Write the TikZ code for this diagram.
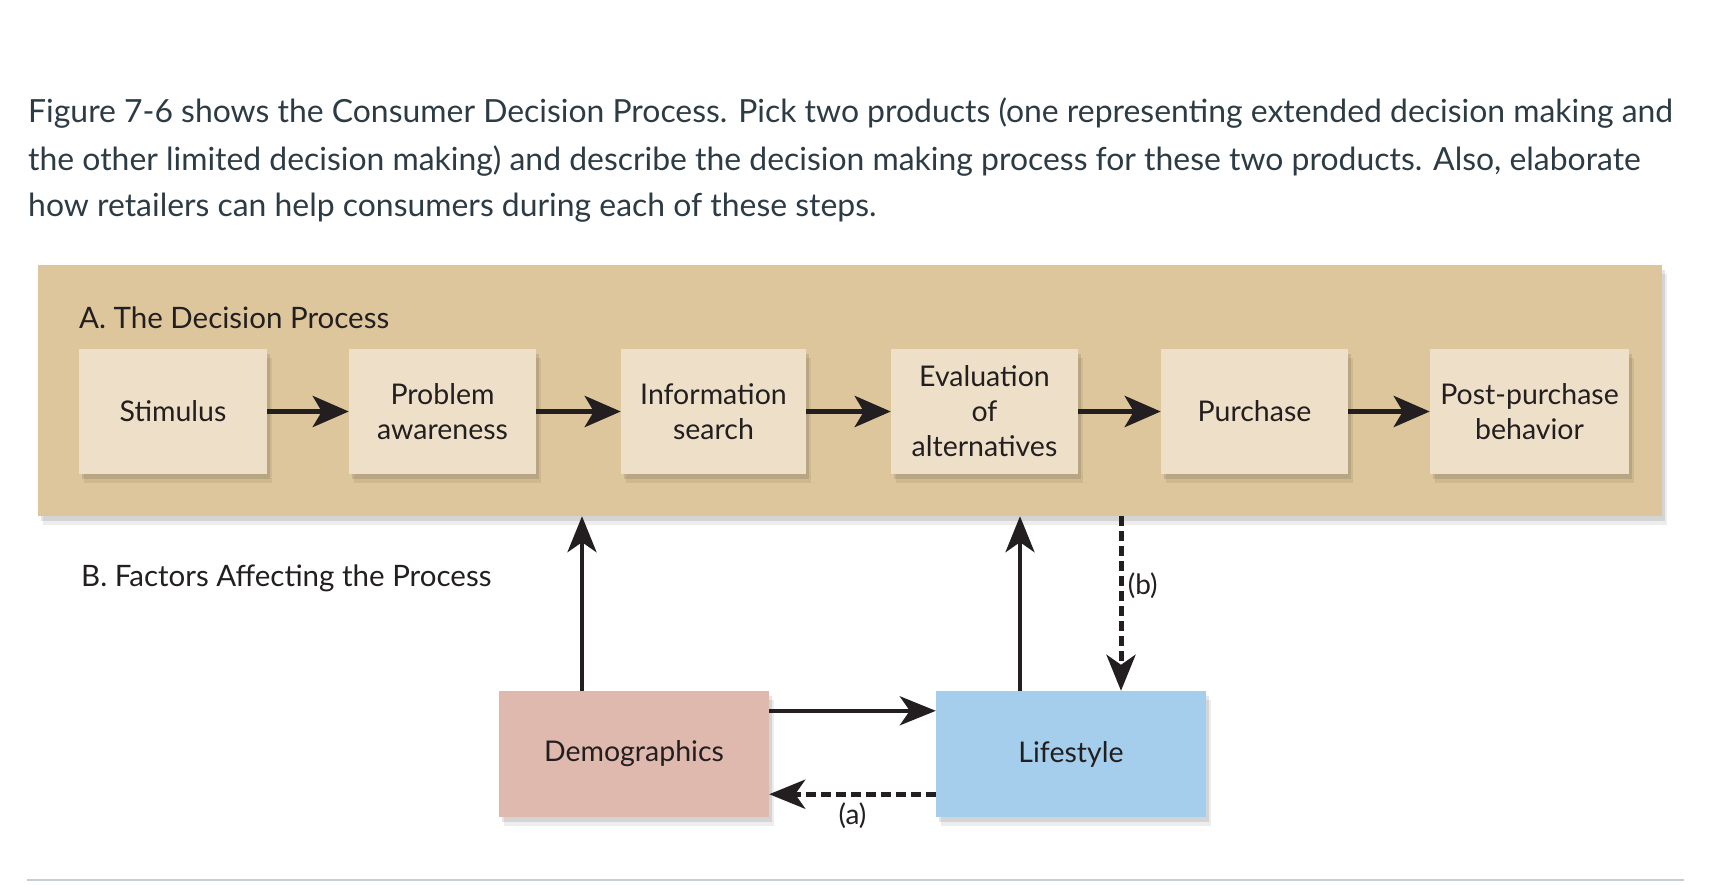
\documentclass[tikz,border=0pt]{standalone}
\usepackage{fontspec}
\setmainfont{Lato}
\usetikzlibrary{arrows.meta,shadows,positioning}

\begin{document}
\begin{tikzpicture}[x=1pt,y=-1pt,line join=round,
  boxshadow/.style={drop shadow={shadow xshift=5pt,shadow yshift=-9pt,opacity=0.07,fill=black},
    drop shadow={shadow xshift=2.5pt,shadow yshift=-5pt,opacity=0.1,fill=black}},
  stepbox/.style={fill=stepc,minimum height=125pt,inner sep=0pt,align=center,
    text=inkc,font=\fontsize{28.5}{35}\selectfont,boxshadow},
  factorbox/.style={minimum width=270pt,minimum height=126pt,inner sep=0pt,
    text=inkc,font=\fontsize{28.5}{35}\selectfont,boxshadow},
  steparrow/.style={line width=5.5pt,-{Stealth[length=36pt,width=31pt,inset=9pt]},draw=inkc},
  linkarrow/.style={line width=4pt,-{Stealth[length=36pt,width=29pt,inset=10pt]},draw=inkc},
  dasharrow/.style={linkarrow,line width=5pt,dash pattern=on 10pt off 5pt}]
\definecolor{qtext}{RGB}{45,59,69}
\definecolor{panelc}{RGB}{222,198,156}
\definecolor{stepc}{RGB}{238,224,200}
\definecolor{democ}{RGB}{223,185,174}
\definecolor{lifec}{RGB}{164,206,236}
\definecolor{inkc}{RGB}{35,31,32}
\definecolor{rulec}{RGB}{199,205,209}
\fill[white] (0,0) rectangle (1720,884);
\useasboundingbox (0,0) rectangle (1720,884);
% question text
\foreach \i/\y/\t in {1/113/{Figure 7-6 shows the Consumer Decision Process. Pick two products (one representing extended decision making and},
  2/161/{the other limited decision making) and describe the decision making process for these two products. Also, elaborate},
  3/208/{how retailers can help consumers during each of these steps.}}{
  \node[anchor=west,inner sep=0pt,text=qtext,font=\fontsize{31.9}{36}\selectfont] (q\i) at (28,\y) {\t};}
% A. the decision process
\node[fill=panelc,minimum width=1624pt,minimum height=251pt,inner sep=0pt,boxshadow] (panel) at (850,390.5) {};
\node[anchor=west,inner sep=0pt,text=inkc,font=\fontsize{29.5}{34}\selectfont] (titleA) at (79,318) {A. The Decision Process};
\foreach \n/\x/\w/\t in {stim/173/188/Stimulus, prob/442.5/187/{Problem\\awareness},
  info/713.5/185/{Information\\search}, eval/984.5/187/{Evaluation\\of\\alternatives},
  purch/1254.5/187/Purchase, post/1529.5/199/{Post-purchase\\behavior}}{
  \node[stepbox,minimum width=\w pt] (\n) at (\x,411.5) {\t};}
\foreach \a/\b in {stim/prob,prob/info,info/eval,eval/purch,purch/post}{
  \draw[steparrow] (\a) -- (\b);}
% B. factors affecting the process
\node[anchor=west,inner sep=0pt,text=inkc,font=\fontsize{29.5}{34}\selectfont] (titleB) at (81,578) {B. Factors Affecting the Process};
\node[factorbox,fill=democ] (demo) at (634,754) {Demographics};
\node[factorbox,fill=lifec] (life) at (1071,754) {Lifestyle};
\draw[linkarrow] ([xshift=-52pt]demo.north) -- ([xshift=-52pt]demo.north |- panel.south);
\draw[linkarrow] ([xshift=-51pt]life.north) -- ([xshift=-51pt]life.north |- panel.south);
\draw[dasharrow] ([xshift=50pt]life.north |- panel.south) -- ([xshift=50pt]life.north)
  node[pos=0.4,right=1pt,text=inkc,font=\fontsize{28}{30}\selectfont] (lblb) {(b)};
\draw[linkarrow] ([yshift=-20pt]demo.north east) -- ([yshift=-20pt]life.north west);
\draw[dasharrow] ([yshift=23pt]life.south west) -- ([yshift=23pt]demo.south east)
  node[pos=0.5,below=3pt,text=inkc,font=\fontsize{28}{30}\selectfont] (lbla) {(a)};
% bottom rule
\draw[rulec,line width=2pt] (27,880) -- (1684,880);
\end{tikzpicture}
\end{document}
